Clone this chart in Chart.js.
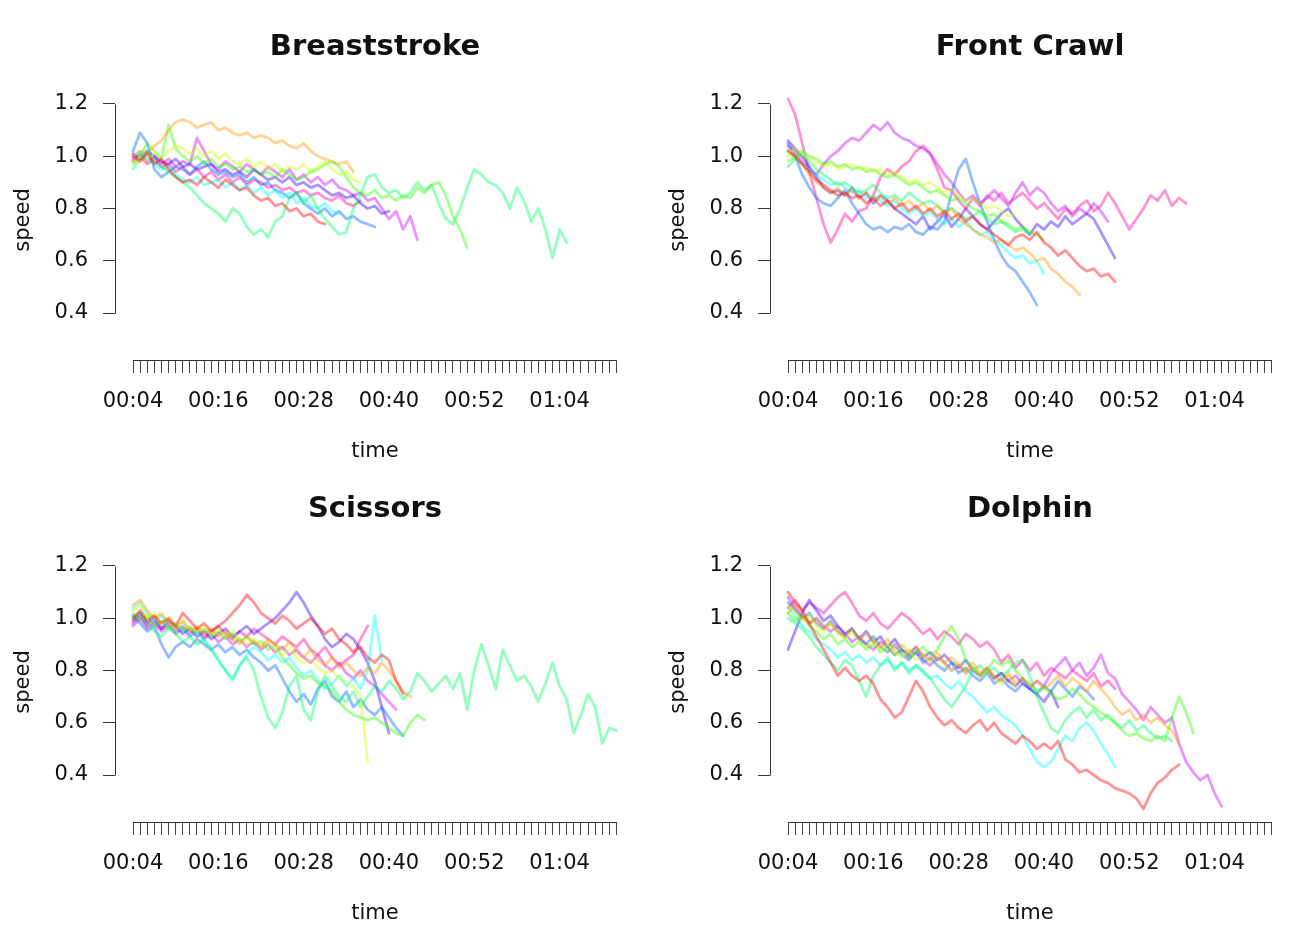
<!DOCTYPE html>
<html>
<head>
<meta charset="utf-8">
<title>Swimming speed by stroke</title>
<script src="https://cdn.jsdelivr.net/npm/chart.js@4/dist/chart.umd.min.js"></script>
<style>
  html, body { margin: 0; padding: 0; background: #fff; overflow: hidden; }
  .panel { position: absolute; width: 656px; height: 470px; }
</style>
</head>
<body>
<div class="panel" style="left:0;top:0"><canvas id="c1" width="656" height="470"></canvas></div>
<div class="panel" style="left:655px;top:0"><canvas id="c2" width="656" height="470"></canvas></div>
<div class="panel" style="left:0;top:462px"><canvas id="c3" width="656" height="470"></canvas></div>
<div class="panel" style="left:655px;top:462px"><canvas id="c4" width="656" height="470"></canvas></div>
<script>
// samples are one second apart, first one at 00:04
const startTime = 4;
const step = 1;

// axis ticks
const yTicks = [0.4, 0.6, 0.8, 1.0, 1.2];
const xTickFirst = 4;
const xTickLast = 72;
const xLabelEvery = 12;

// Breaststroke
const bsRed    = [1.00,0.98,1.01,0.97,0.99,0.95,0.92,0.90,0.91,0.89,0.92,0.90,0.88,0.91,0.89,0.87,0.88,0.85,0.83,0.84,0.81,0.82,0.79,0.80,0.77,0.78,0.75,0.74];
const bsOrange = [1.00,1.02,1.01,1.04,1.06,1.10,1.13,1.14,1.13,1.11,1.12,1.13,1.10,1.11,1.09,1.08,1.09,1.07,1.08,1.07,1.05,1.06,1.04,1.03,1.05,1.02,1.00,0.99,0.98,0.97,0.98,0.94];
const bsYellow = [0.97,1.00,0.98,1.01,0.99,1.02,1.04,1.03,1.01,1.03,1.00,1.02,0.99,1.01,0.98,0.97,0.99,0.96,0.98,0.95,0.97,0.94,0.96,0.95,0.97,0.94,0.96,0.98,0.95,0.93,0.94,0.91,0.90];
const bsGreen  = [0.97,1.00,1.05,1.02,0.99,1.12,1.03,1.00,0.98,1.00,0.97,0.99,0.96,0.97,0.95,0.96,0.94,0.95,0.93,0.94,0.92,0.95,0.93,0.91,0.92,0.94,0.95,0.97,0.98,0.96,0.92,0.88,0.86,0.85,0.87,0.84,0.85,0.83,0.85,0.84,0.88,0.86,0.89,0.90,0.85,0.77,0.72,0.65];
const bsMint   = [0.95,0.99,1.02,0.98,0.96,0.94,0.92,0.90,0.88,0.85,0.82,0.80,0.78,0.75,0.80,0.78,0.73,0.70,0.72,0.69,0.75,0.77,0.84,0.86,0.82,0.85,0.80,0.76,0.73,0.70,0.71,0.80,0.85,0.92,0.93,0.88,0.86,0.87,0.84,0.86,0.90,0.87,0.89,0.82,0.76,0.74,0.80,0.88,0.95,0.93,0.90,0.89,0.86,0.80,0.88,0.83,0.75,0.80,0.72,0.61,0.72,0.67];
const bsCyan   = [1.00,1.02,0.99,0.97,0.95,0.96,0.93,0.91,0.90,0.92,0.89,0.90,0.91,0.88,0.90,0.87,0.89,0.86,0.88,0.85,0.87,0.84,0.86,0.82,0.84,0.81,0.80,0.82,0.79,0.78];
const bsBlue   = [1.02,1.09,1.05,0.95,0.92,0.94,0.96,0.95,0.93,0.96,0.98,0.95,0.93,0.94,0.92,0.93,0.90,0.92,0.89,0.90,0.87,0.86,0.84,0.86,0.82,0.80,0.78,0.80,0.77,0.79,0.76,0.77,0.75,0.74,0.73];
const bsViolet = [1.01,0.99,1.02,1.00,0.98,0.97,0.99,0.96,0.97,0.95,0.96,0.97,0.94,0.95,0.93,0.94,0.92,0.95,0.93,0.91,0.92,0.90,0.92,0.89,0.90,0.88,0.89,0.87,0.85,0.86,0.84,0.85,0.82,0.80,0.81,0.78,0.79];
const bsOrchid = [0.99,1.01,0.98,1.00,0.97,0.99,0.96,0.98,0.97,1.07,1.02,0.97,0.95,0.98,0.96,0.94,0.97,0.95,0.93,0.96,0.94,0.92,0.95,0.91,0.93,0.90,0.92,0.89,0.91,0.88,0.87,0.85,0.86,0.83,0.84,0.80,0.76,0.79,0.72,0.77,0.68];
const bsPink   = [0.98,1.00,0.97,0.99,0.96,0.97,0.94,0.96,0.93,0.95,0.92,0.94,0.91,0.93,0.90,0.92,0.89,0.91,0.90,0.88,0.89,0.87,0.88,0.86,0.87,0.85,0.86,0.84,0.83,0.85,0.82,0.81,0.83];

// Front Crawl
const fcRed    = [1.02,1.00,0.97,0.94,0.91,0.89,0.87,0.85,0.86,0.84,0.85,0.82,0.84,0.81,0.83,0.80,0.82,0.79,0.81,0.78,0.80,0.77,0.79,0.76,0.78,0.75,0.77,0.74,0.72,0.70,0.68,0.66,0.69,0.70,0.68,0.71,0.67,0.65,0.62,0.64,0.61,0.58,0.56,0.57,0.54,0.55,0.52];
const fcOrange = [1.03,1.00,0.97,0.93,0.90,0.88,0.86,0.88,0.85,0.87,0.84,0.86,0.83,0.85,0.82,0.84,0.81,0.83,0.80,0.82,0.79,0.81,0.78,0.80,0.76,0.74,0.72,0.70,0.69,0.67,0.68,0.66,0.64,0.65,0.63,0.60,0.61,0.57,0.55,0.52,0.50,0.47];
const fcYellow = [1.00,1.03,1.01,0.99,0.98,0.96,0.97,0.95,0.96,0.97,0.95,0.96,0.94,0.95,0.93,0.94,0.92,0.90,0.91,0.89,0.90,0.88,0.86,0.87,0.85,0.83,0.84,0.82,0.80,0.81,0.79,0.77,0.78];
const fcGreen  = [0.98,1.00,1.02,1.00,0.99,0.97,0.98,0.96,0.97,0.95,0.96,0.94,0.95,0.93,0.92,0.93,0.91,0.89,0.90,0.88,0.86,0.87,0.85,0.83,0.84,0.82,0.80,0.79,0.77,0.78,0.75,0.74,0.72,0.73,0.71,0.70,0.68];
const fcMint   = [0.96,0.99,1.01,0.98,0.95,0.93,0.91,0.89,0.90,0.88,0.86,0.87,0.89,0.86,0.84,0.85,0.83,0.86,0.84,0.82,0.83,0.81,0.79,0.80,0.78,0.76,0.77,0.79,0.76,0.74,0.75,0.73,0.71,0.72,0.70];
const fcCyan   = [1.02,0.99,0.97,0.95,0.93,0.91,0.89,0.90,0.88,0.86,0.87,0.84,0.85,0.83,0.81,0.83,0.80,0.78,0.80,0.77,0.79,0.76,0.74,0.76,0.73,0.75,0.72,0.70,0.71,0.68,0.66,0.63,0.61,0.62,0.59,0.60,0.55];
const fcBlue   = [1.05,1.00,0.93,0.88,0.84,0.82,0.81,0.84,0.87,0.82,0.78,0.74,0.72,0.73,0.71,0.73,0.72,0.74,0.71,0.70,0.73,0.72,0.75,0.86,0.95,0.99,0.90,0.82,0.75,0.68,0.62,0.58,0.56,0.52,0.48,0.43];
const fcViolet = [1.06,1.03,1.00,0.96,0.92,0.88,0.86,0.87,0.85,0.88,0.84,0.86,0.82,0.85,0.83,0.80,0.78,0.76,0.74,0.77,0.72,0.75,0.78,0.73,0.76,0.80,0.77,0.74,0.72,0.75,0.78,0.80,0.76,0.73,0.70,0.74,0.72,0.75,0.73,0.77,0.74,0.76,0.78,0.76,0.71,0.66,0.61];
const fcOrchid = [1.04,1.02,0.98,0.95,0.93,0.97,1.00,1.02,1.05,1.07,1.06,1.09,1.12,1.10,1.13,1.09,1.07,1.06,1.04,1.03,1.01,0.97,0.93,0.90,0.86,0.83,0.85,0.82,0.84,0.87,0.84,0.81,0.86,0.90,0.85,0.88,0.86,0.82,0.79,0.81,0.77,0.80,0.78,0.82,0.79,0.75];
const fcPink   = [1.22,1.16,1.05,0.94,0.84,0.74,0.67,0.72,0.78,0.75,0.79,0.80,0.85,0.92,0.95,0.93,0.96,0.98,1.02,1.04,1.01,0.95,0.88,0.87,0.83,0.80,0.84,0.81,0.85,0.83,0.86,0.82,0.84,0.86,0.83,0.80,0.82,0.79,0.76,0.80,0.78,0.81,0.83,0.79,0.81,0.86,0.82,0.77,0.72,0.76,0.80,0.85,0.83,0.87,0.81,0.84,0.82];

// Scissors
const scRed    = [1.00,1.03,0.99,1.01,0.98,1.00,0.97,1.02,0.99,0.96,0.98,0.95,0.97,0.99,1.02,1.05,1.09,1.06,1.02,1.00,0.98,1.01,0.99,0.96,0.98,1.00,0.97,0.94,0.96,0.92,0.90,0.87,0.89,0.85,0.83,0.86,0.84,0.76,0.71];
const scOrange = [1.05,1.07,1.03,1.00,1.02,0.98,0.96,0.99,0.95,0.97,0.94,0.96,0.93,0.95,0.92,0.90,0.93,0.91,0.89,0.92,0.90,0.88,0.91,0.87,0.85,0.88,0.84,0.82,0.85,0.81,0.83,0.80,0.78,0.81,0.79,0.83,0.80,0.76,0.72,0.70];
const scYellow = [1.03,1.05,1.00,1.02,0.98,1.00,0.97,0.99,0.96,0.95,0.97,0.94,0.96,0.93,0.95,0.92,0.90,0.92,0.89,0.91,0.88,0.86,0.88,0.85,0.83,0.84,0.81,0.79,0.80,0.77,0.75,0.74,0.70,0.45];
const scGreen  = [1.02,0.99,1.01,0.97,0.99,0.96,0.98,0.95,0.97,0.94,0.96,0.93,0.95,0.92,0.94,0.91,0.93,0.90,0.91,0.88,0.90,0.85,0.82,0.79,0.77,0.78,0.75,0.74,0.72,0.68,0.65,0.63,0.62,0.61,0.62,0.60,0.58,0.56,0.55,0.60,0.63,0.61];
const scMint   = [1.00,1.02,0.98,0.95,0.93,0.96,0.94,0.91,0.93,0.90,0.92,0.88,0.84,0.80,0.77,0.82,0.85,0.80,0.70,0.62,0.58,0.64,0.74,0.78,0.65,0.61,0.72,0.78,0.74,0.70,0.68,0.72,0.66,0.70,0.74,0.72,0.76,0.73,0.69,0.72,0.79,0.76,0.72,0.75,0.78,0.73,0.79,0.65,0.80,0.90,0.82,0.73,0.88,0.82,0.76,0.78,0.74,0.68,0.75,0.83,0.74,0.69,0.56,0.63,0.71,0.66,0.52,0.58,0.57];
const scCyan   = [1.04,1.06,1.02,0.99,1.01,0.97,0.95,0.97,0.93,0.95,0.91,0.88,0.84,0.80,0.76,0.82,0.86,0.89,0.87,0.84,0.86,0.83,0.85,0.81,0.78,0.80,0.76,0.73,0.75,0.78,0.74,0.77,0.73,0.80,1.01,0.84];
const scBlue   = [1.01,0.98,0.95,0.97,0.90,0.85,0.89,0.91,0.89,0.92,0.90,0.88,0.90,0.87,0.89,0.86,0.88,0.85,0.83,0.80,0.82,0.77,0.72,0.68,0.71,0.67,0.73,0.76,0.70,0.68,0.72,0.66,0.69,0.65,0.63,0.66,0.62,0.58,0.55];
const scViolet = [0.99,1.02,0.98,1.00,0.96,0.99,0.97,0.94,0.96,0.93,0.95,0.92,0.94,0.96,0.93,0.95,0.97,0.94,0.96,0.98,1.00,1.03,1.06,1.10,1.06,1.01,0.97,0.92,0.89,0.91,0.94,0.92,0.88,0.83,0.76,0.66,0.56];
const scOrchid = [0.97,1.00,0.96,0.98,0.95,0.97,0.94,0.96,0.93,0.95,0.92,0.94,0.91,0.93,0.90,0.92,0.89,0.91,0.88,0.90,0.87,0.89,0.86,0.88,0.85,0.83,0.86,0.82,0.80,0.83,0.79,0.77,0.80,0.76,0.74,0.71,0.68,0.65];
const scPink   = [0.98,1.01,0.97,0.99,0.96,0.98,0.95,0.97,0.94,0.96,0.93,0.95,0.97,0.94,0.92,0.95,0.93,0.96,0.94,0.92,0.90,0.93,0.91,0.89,0.92,0.88,0.86,0.89,0.85,0.82,0.84,0.86,0.92,0.97];

// Dolphin
const dRed     = [1.10,1.06,1.03,0.98,0.93,0.88,0.83,0.78,0.81,0.78,0.76,0.78,0.75,0.69,0.66,0.62,0.64,0.70,0.76,0.72,0.66,0.62,0.59,0.61,0.58,0.56,0.59,0.61,0.57,0.60,0.56,0.54,0.52,0.55,0.53,0.50,0.52,0.50,0.53,0.46,0.44,0.41,0.42,0.40,0.38,0.37,0.35,0.34,0.33,0.31,0.27,0.33,0.37,0.39,0.42,0.44];
const dOrange  = [1.02,1.05,1.01,0.98,1.00,0.96,0.98,0.95,0.93,0.96,0.92,0.94,0.91,0.89,0.92,0.88,0.90,0.87,0.89,0.86,0.84,0.87,0.83,0.85,0.82,0.80,0.83,0.79,0.81,0.78,0.76,0.79,0.75,0.77,0.74,0.76,0.73,0.75,0.78,0.74,0.77,0.75,0.72,0.76,0.73,0.70,0.66,0.63,0.65,0.61,0.63,0.60,0.62,0.59,0.57,0.52];
const dYellow  = [1.05,1.02,0.99,1.01,0.97,0.95,0.98,0.94,0.92,0.95,0.91,0.89,0.92,0.88,0.90,0.87,0.85,0.88,0.84,0.86,0.83,0.85,0.82,0.80,0.83,0.79,0.81,0.78,0.80,0.77,0.75,0.78,0.74];
const dGreen   = [1.02,0.99,1.01,0.97,0.95,0.92,0.94,0.90,0.92,0.89,0.91,0.88,0.90,0.87,0.89,0.86,0.88,0.85,0.87,0.89,0.86,0.88,0.93,0.97,0.92,0.84,0.81,0.78,0.80,0.84,0.82,0.84,0.80,0.77,0.75,0.72,0.74,0.71,0.69,0.70,0.73,0.71,0.68,0.66,0.64,0.62,0.60,0.57,0.55,0.56,0.54,0.53,0.55,0.53,0.62,0.70,0.64,0.56];
const dMint    = [1.00,0.98,0.96,0.93,0.89,0.86,0.83,0.80,0.84,0.82,0.76,0.70,0.78,0.82,0.85,0.80,0.83,0.79,0.82,0.80,0.77,0.73,0.69,0.66,0.70,0.74,0.80,0.82,0.79,0.81,0.78,0.80,0.83,0.84,0.78,0.70,0.64,0.58,0.56,0.61,0.64,0.66,0.62,0.65,0.61,0.63,0.60,0.58,0.61,0.57,0.59,0.56,0.54,0.55,0.53];
const dCyan    = [1.04,1.01,0.97,0.95,0.92,0.90,0.88,0.85,0.87,0.84,0.86,0.83,0.85,0.82,0.84,0.81,0.83,0.80,0.82,0.79,0.77,0.78,0.75,0.73,0.76,0.72,0.70,0.67,0.64,0.66,0.63,0.61,0.59,0.55,0.50,0.45,0.43,0.45,0.50,0.55,0.53,0.58,0.60,0.57,0.52,0.48,0.43];
const dBlue    = [1.06,1.03,1.00,1.02,0.98,0.96,0.99,0.95,0.93,0.96,0.92,0.90,0.93,0.89,0.87,0.90,0.86,0.84,0.87,0.83,0.85,0.82,0.80,0.83,0.79,0.81,0.78,0.76,0.79,0.75,0.77,0.74,0.72,0.75,0.73,0.71,0.74,0.72,0.76,0.73,0.70,0.74,0.72,0.69];
const dViolet  = [0.88,0.95,1.02,1.07,1.03,0.99,1.01,0.97,0.94,0.96,0.92,0.95,0.91,0.93,0.89,0.92,0.88,0.86,0.89,0.85,0.87,0.84,0.86,0.83,0.81,0.84,0.80,0.78,0.81,0.77,0.79,0.76,0.74,0.77,0.73,0.71,0.68,0.72,0.66];
const dOrchid  = [1.08,1.04,1.01,0.98,1.00,0.97,0.95,0.97,0.94,0.91,0.93,0.90,0.88,0.91,0.89,0.86,0.88,0.85,0.87,0.84,0.82,0.85,0.83,0.80,0.82,0.79,0.81,0.78,0.80,0.77,0.79,0.76,0.78,0.75,0.73,0.76,0.74,0.79,0.82,0.85,0.80,0.83,0.78,0.81,0.86,0.79,0.77,0.71,0.68,0.65,0.61,0.66,0.63,0.60,0.62,0.52,0.45,0.41,0.38,0.40,0.33,0.28];
const dPink    = [1.04,1.07,1.03,1.06,1.04,1.02,1.05,1.08,1.10,1.06,1.01,0.99,1.02,0.98,0.96,0.99,1.02,1.00,0.97,0.94,0.96,0.92,0.95,0.93,0.90,0.94,0.92,0.89,0.91,0.88,0.83,0.86,0.81,0.84,0.80,0.83,0.78,0.81,0.79,0.77,0.80,0.78,0.76,0.79,0.74,0.76,0.73];

// rainbow(10), see-through
const palette = ['#FF00006B','#FF99006B','#CCFF006B','#33FF006B','#00FF666B',
                 '#00FFFF6B','#0066FF6B','#3300FF6B','#CC00FF6B','#FF00996B'];

const panels = [
  { id: 'c1', title: 'Breaststroke', series: [bsRed, bsOrange, bsYellow, bsGreen, bsMint, bsCyan, bsBlue, bsViolet, bsOrchid, bsPink] },
  { id: 'c2', title: 'Front Crawl',  series: [fcRed, fcOrange, fcYellow, fcGreen, fcMint, fcCyan, fcBlue, fcViolet, fcOrchid, fcPink] },
  { id: 'c3', title: 'Scissors',     series: [scRed, scOrange, scYellow, scGreen, scMint, scCyan, scBlue, scViolet, scOrchid, scPink] },
  { id: 'c4', title: 'Dolphin',      series: [dRed, dOrange, dYellow, dGreen, dMint, dCyan, dBlue, dViolet, dOrchid, dPink] },
];

// plot geometry inside each panel (R style: axes drawn apart from the data)
const areaTop = 80, areaBottom = 360, areaLeft = 115, areaRight = 635;
const y12px = 104, y04px = 313;            // where 1.2 and 0.4 sit
const t4px = 133, pxPerSec = 7.11;          // where 00:04 sits, and 1 s width
const pxPerUnit = (y04px - y12px) / 0.8;
const yMax = 1.2 + (y12px - areaTop) / pxPerUnit;
const yMin = 0.4 - (areaBottom - y04px) / pxPerUnit;
const xMin = 4 - (t4px - areaLeft) / pxPerSec;
const xMax = 4 + (areaRight - t4px) / pxPerSec;

const family = '"DejaVu Sans", "Liberation Sans", Arial, sans-serif';
const ink = '#111';

function mmss(s) {
  const m = Math.floor(s / 60), r = Math.round(s % 60);
  return String(m).padStart(2, '0') + ':' + String(r).padStart(2, '0');
}

const xTickValues = [];
for (let t = xTickFirst; t <= xTickLast; t++) xTickValues.push(t);

// draws the axis lines only over the tick range, as R does
const rAxes = {
  id: 'rAxes',
  afterDraw(chart) {
    const { ctx, chartArea, scales: { x, y } } = chart;
    const ax = Math.round(chartArea.left - 0.5) + 0.5;
    const ay = Math.round(chartArea.bottom - 0.5) + 0.5;
    ctx.save();
    ctx.strokeStyle = '#333';
    ctx.lineWidth = 1;
    ctx.beginPath();
    ctx.moveTo(ax, Math.round(y.getPixelForValue(yTicks[0])) + 0.5);
    ctx.lineTo(ax, Math.round(y.getPixelForValue(yTicks[yTicks.length - 1])) + 0.5);
    ctx.moveTo(Math.round(x.getPixelForValue(xTickFirst)) + 0.5, ay);
    ctx.lineTo(Math.round(x.getPixelForValue(xTickLast)) + 0.5, ay);
    ctx.stroke();
    ctx.restore();
  }
};

panels.forEach(p => {
  const datasets = p.series.map((vals, i) => ({
    data: vals.map((v, k) => ({ x: startTime + k * step, y: v })),
    borderColor: palette[i],
    borderWidth: 2.8,
    borderJoinStyle: 'round',
    borderCapStyle: 'round',
    pointRadius: 0,
    tension: 0,
    fill: false
  }));

  new Chart(document.getElementById(p.id).getContext('2d'), {
    type: 'line',
    data: { datasets },
    plugins: [rAxes],
    options: {
      responsive: false,
      animation: false,
      events: [],
      layout: { padding: { left: 0, right: 656 - areaRight, top: 0, bottom: 0 } },
      plugins: {
        legend: { display: false },
        tooltip: { enabled: false },
        title: {
          display: true,
          text: p.title,
          fullSize: false,
          color: ink,
          font: { family, size: 29, weight: 'bold' },
          padding: { top: 29.6, bottom: 15.6 }
        }
      },
      scales: {
        x: {
          type: 'linear',
          min: xMin,
          max: xMax,
          afterBuildTicks: s => { s.ticks = xTickValues.map(v => ({ value: v })); },
          afterFit: s => { s.height = 470 - areaBottom; },
          ticks: {
            autoSkip: false,
            maxRotation: 0,
            padding: 16,
            color: ink,
            font: { family, size: 21 },
            callback: v => ((v - xTickFirst) % xLabelEvery === 0 ? mmss(v) : '')
          },
          grid: { display: true, drawOnChartArea: false, drawTicks: true, tickLength: 13, tickColor: '#444', tickWidth: 1 },
          border: { display: false },
          title: { display: true, text: 'time', color: ink, font: { family, size: 21 }, padding: { top: 0, bottom: 6 } }
        },
        y: {
          type: 'linear',
          min: yMin,
          max: yMax,
          afterBuildTicks: s => { s.ticks = yTicks.map(v => ({ value: v })); },
          afterFit: s => { s.width = areaLeft; },
          ticks: {
            padding: 15,
            color: ink,
            font: { family, size: 21 },
            callback: v => v.toFixed(1)
          },
          grid: { display: true, drawOnChartArea: false, drawTicks: true, tickLength: 12, tickColor: '#333', tickWidth: 1 },
          border: { display: false },
          title: { display: true, text: 'speed', color: ink, font: { family, size: 21 }, padding: { top: 11, bottom: 0 } }
        }
      }
    }
  });
});
</script>
</body>
</html>
